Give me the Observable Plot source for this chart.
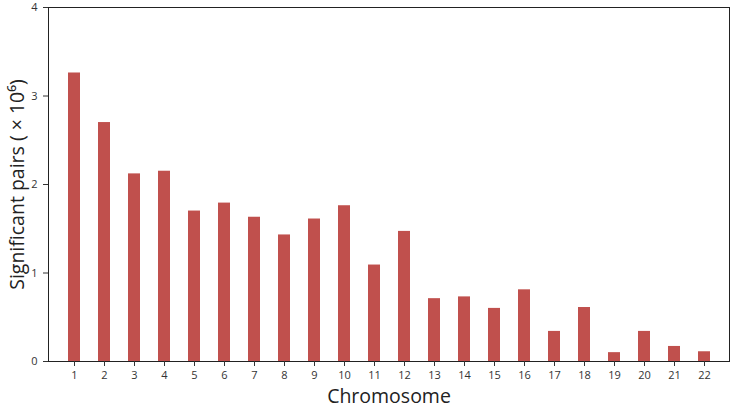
<!DOCTYPE html>
<html>
<head>
<meta charset="utf-8">
<script src="https://cdn.jsdelivr.net/npm/d3@7"></script>
<script src="https://cdn.jsdelivr.net/npm/@observablehq/plot@0.6"></script>
<style>
  html, body { margin: 0; padding: 0; background: #fff; }
  svg { overflow: visible; }
</style>
</head>
<body>
<div id="chart"></div>
<script>
const chromosomes = ["1","2","3","4","5","6","7","8","9","10","11","12","13","14","15","16","17","18","19","20","21","22"];
const pairs = [3.26, 2.70, 2.12, 2.15, 1.70, 1.79, 1.63, 1.43, 1.61, 1.76, 1.09, 1.47, 0.71, 0.73, 0.60, 0.81, 0.34, 0.61, 0.10, 0.34, 0.17, 0.11];
const yTicks = [0, 1, 2, 3, 4];

const data = chromosomes.map((c, i) => ({chromosome: c, value: pairs[i]}));

const chart = Plot.plot({
  width: 731,
  height: 408,
  marginLeft: 48,
  marginRight: 2,
  marginTop: 7,
  marginBottom: 47,
  style: {fontFamily: "'Open Sans', 'Noto Sans', sans-serif", background: "#fff", overflow: "visible"},
  x: {domain: chromosomes, padding: 0.61},
  y: {domain: [0, 4]},
  marks: [
    Plot.barY(data, {x: "chromosome", y: "value", fill: "#C0504D"}),
    Plot.frame({stroke: "#222", strokeWidth: 1}),
    Plot.axisX({tickSize: 5, tickPadding: 5, fontSize: 11, color: "#333", label: "Chromosome", labelAnchor: "center", labelOffset: 41, labelArrow: "none"}),
    Plot.axisY({ticks: yTicks, tickFormat: d3.format("d"), tickSize: 5, tickPadding: 6, fontSize: 11, color: "#333", label: "Significant pairs ( × 10⁶)", labelAnchor: "center", labelOffset: 38, labelArrow: "none"})
  ]
});

chart.querySelectorAll("g[aria-label='x-axis label'] text, g[aria-label='y-axis label'] text").forEach(t => {
  t.setAttribute("font-size", "19.5");
  t.style.fill = "#222";
});
document.getElementById("chart").appendChild(chart);
</script>
</body>
</html>
